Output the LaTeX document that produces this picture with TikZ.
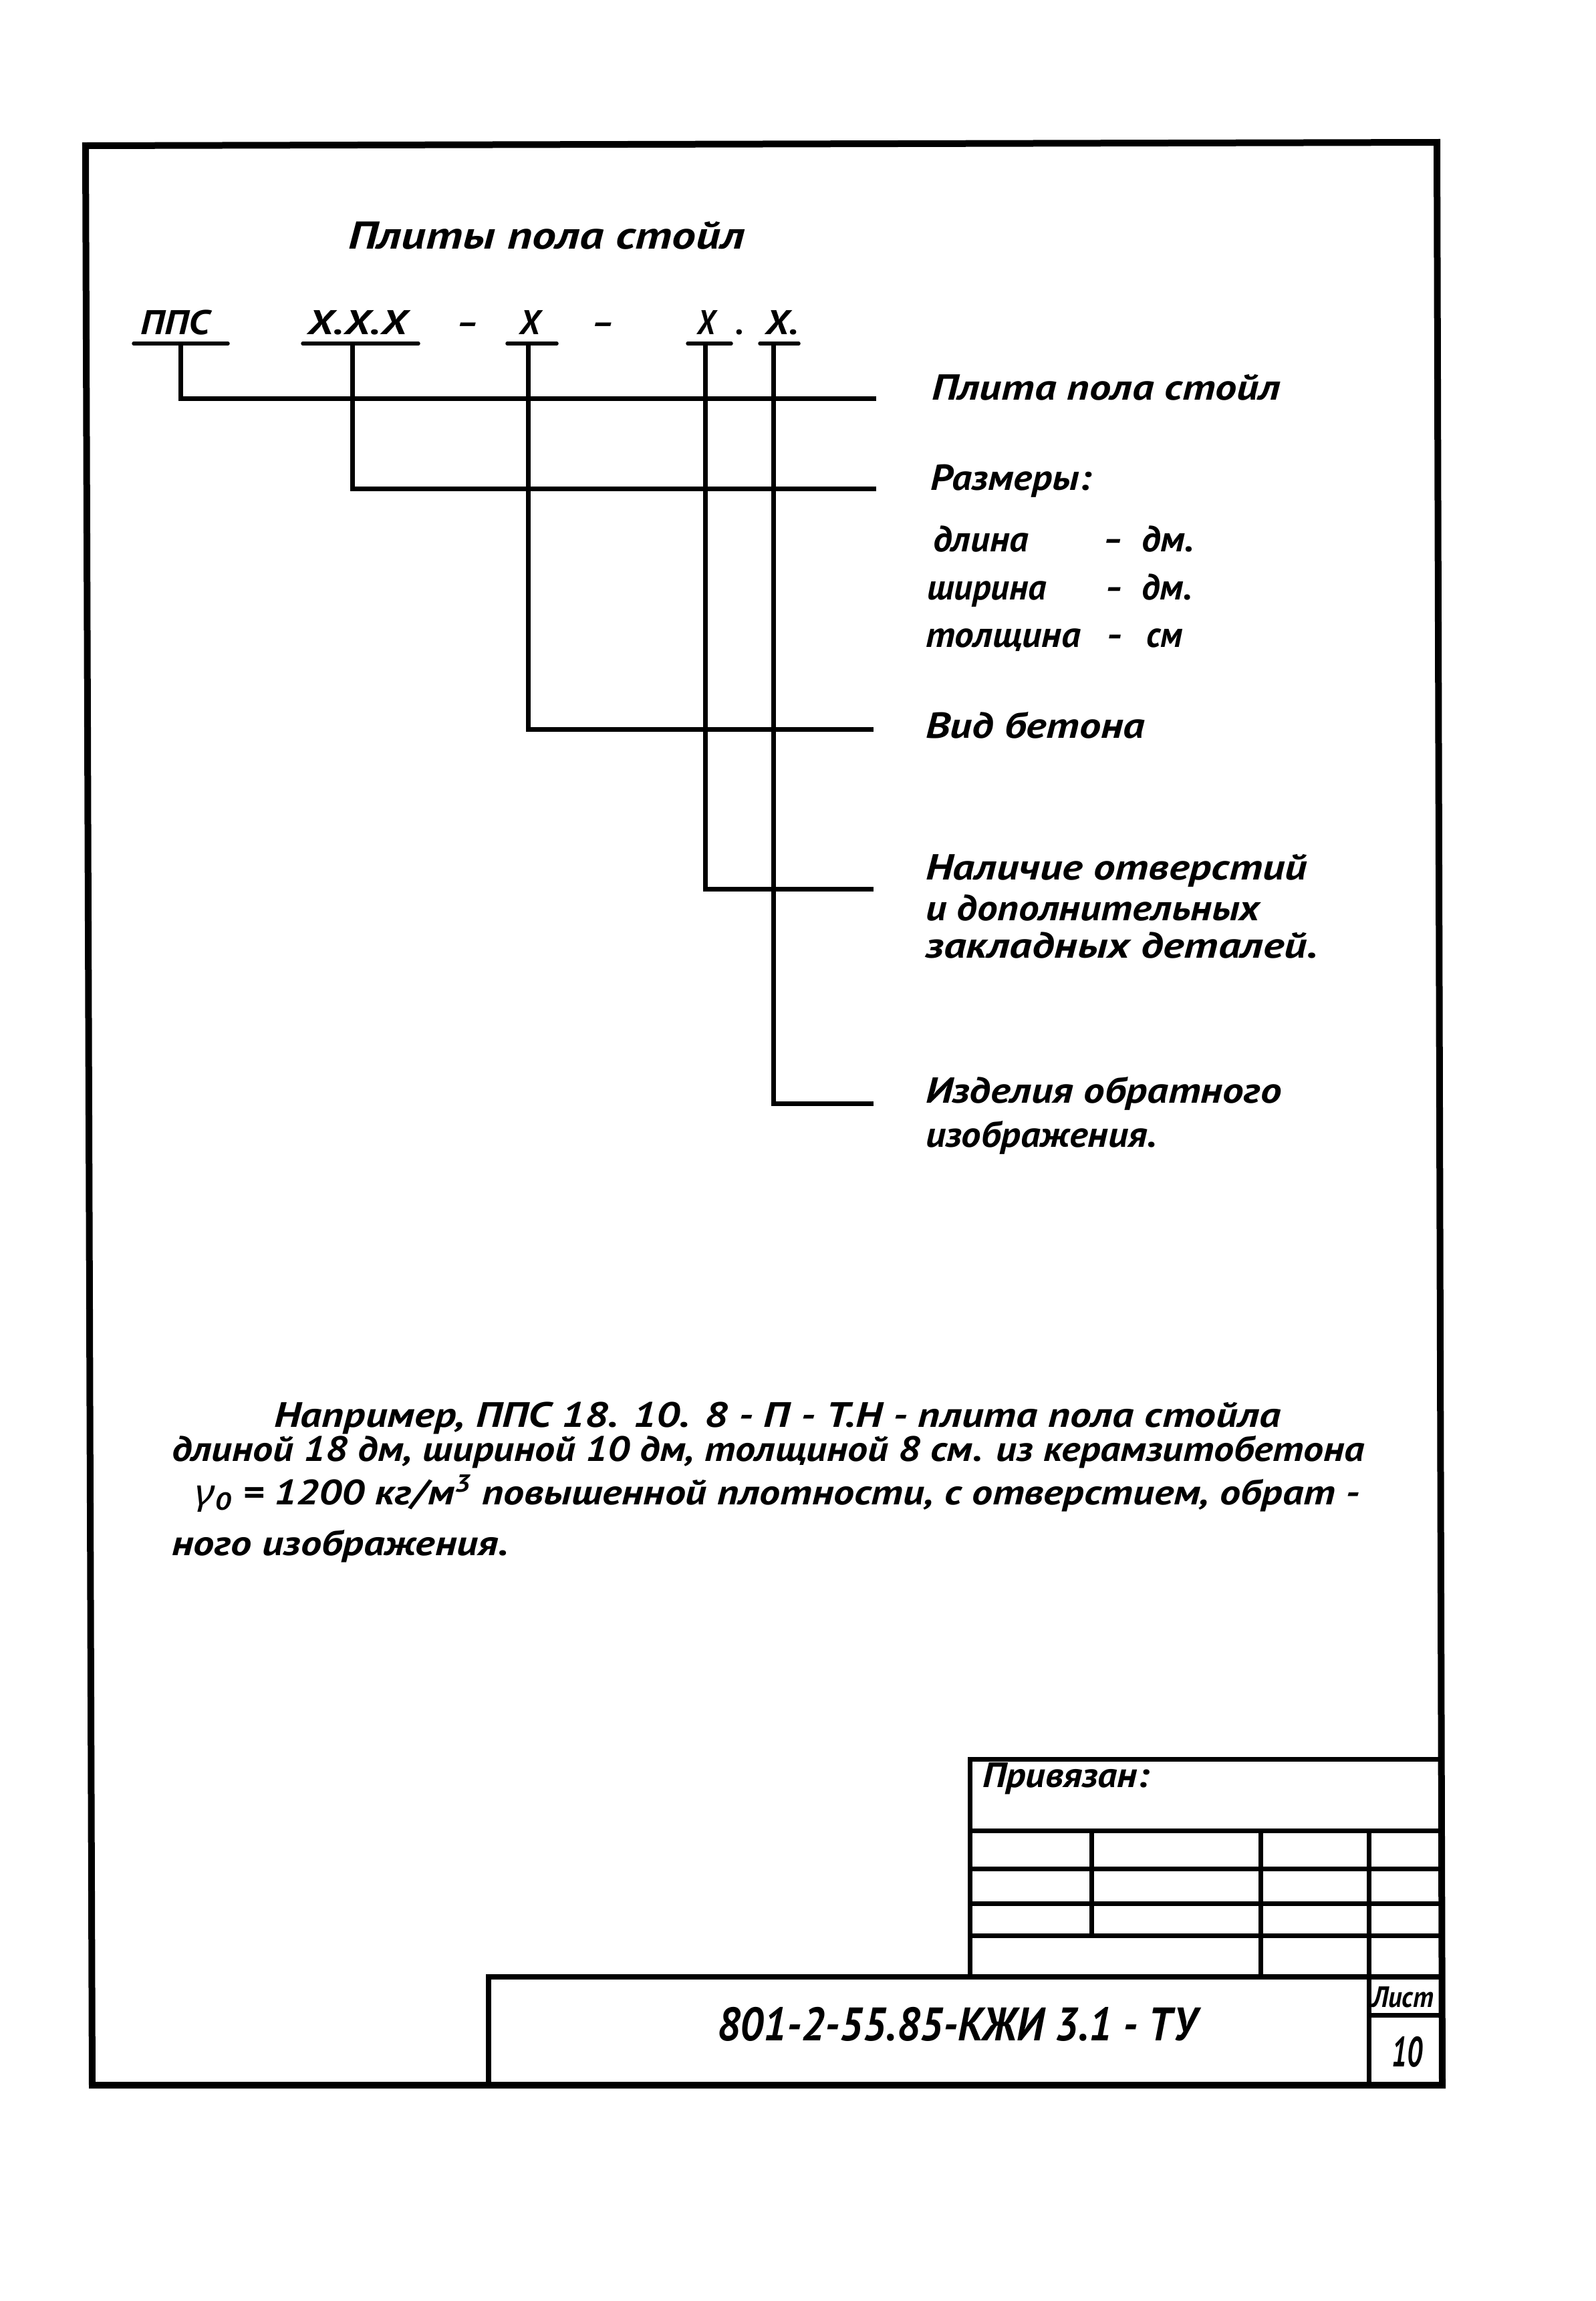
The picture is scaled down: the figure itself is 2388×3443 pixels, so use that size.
\documentclass[tikz,border=0pt]{standalone}
\usepackage{fontspec}
\usepackage{graphicx}
\setmainfont{PT Sans}
\newfontfamily\grkfont{Noto Sans}
% font size (pt), target width (mm), text
\newcommand\ftx[3]{\fontsize{#1pt}{#1pt}\selectfont\resizebox{#2mm}{\height}{#3}}
\newcommand\ftn[2]{\fontsize{#1pt}{#1pt}\selectfont #2}
\begin{document}
\begin{tikzpicture}[x=0.1mm,y=-0.1mm,
  txt/.style={inner sep=0pt, outer sep=0pt, anchor=base west, font=\bfseries\itshape},
  frameline/.style={line width=1mm, line join=miter},
  stampline/.style={line width=0.85mm, line join=miter},
  tbline/.style={line width=0.7mm},
  conn/.style={line width=0.7mm, line join=miter},
  uline/.style={line width=0.55mm, line cap=round}]
\useasboundingbox (0,0) rectangle (2388,3443);
\fill[white] (0,0) rectangle (2388,3443);

% ---------- frame ----------
\draw[frameline] (128,218) -- (2150,213) -- (2158,3120) -- (138,3120) -- cycle;

% ---------- title block ----------
\draw[tbline] (1451,2958) -- (1451,2632) -- (2157,2632);
\foreach \yy in {2739,2796,2848,2896} \draw[tbline] (1451,\yy) -- (2157,\yy);
\draw[tbline] (1633,2739) -- (1633,2896);
\draw[tbline] (1886,2739) -- (1886,2958);
\draw[tbline] (2048,2739) -- (2048,3120);
\draw[stampline] (731,3120) -- (731,2958) -- (2158,2958);
\draw[tbline] (2048,3015) -- (2158,3015);

\node[txt] (priv) at (1470,2674) {\ftx{15}{25.0}{Привязан:}};
\node[txt] (code) at (1073,3053) {\ftx{20}{71.7}{801-2-55.85-КЖИ 3.1 - ТУ}};
\node[txt] (list) at (2053,3003) {\ftx{12.5}{9.2}{Лист}};
\node[txt] (num) at (2082,3092) {\ftx{18}{4.6}{10}};

% ---------- heading ----------
\node[txt] (title) at (521,372) {\ftx{16.5}{59.3}{Плиты пола стойл}};

% ---------- code row ----------
\node[txt] (c1) at (211,500) {\ftx{14.6}{10.3}{ППС}};
\node[txt] (c2) at (460,500) {\ftx{14.6}{14.9}{Х.Х.Х}};
\node[txt] (d1) at (682,500) {\ftx{14.6}{3.4}{–}};
\node[txt] (c3) at (777,500) {\ftx{14.6}{3.1}{Х}};
\node[txt] (d2) at (884,500) {\ftx{14.6}{3.5}{–}};
\node[txt] (c4) at (1043,500) {\ftx{14.6}{2.7}{Х}};
\node[txt] (c5) at (1100,500) {\ftn{14.6}{.}};
\node[txt] (c6) at (1145,500) {\ftx{14.6}{5.0}{Х.}};

% underlines
\draw[uline] (200,514) -- (341,514);
\draw[uline] (453,514) -- (626,514);
\draw[uline] (759,514) -- (833,514);
\draw[uline] (1029,514) -- (1094,514);
\draw[uline] (1137,514) -- (1195,514);

% connectors
\coordinate (u1) at (270,514);
\coordinate (u2) at (527,514);
\coordinate (u3) at (790,514);
\coordinate (u4) at (1055,514);
\coordinate (u5) at (1157,514);
\coordinate (e1) at (1311,596);
\coordinate (e2) at (1311,731);
\coordinate (e3) at (1307,1091);
\coordinate (e4) at (1307,1330);
\coordinate (e5) at (1307,1651);
\draw[conn] (u1) |- (e1);
\draw[conn] (u2) |- (e2);
\draw[conn] (u3) |- (e3);
\draw[conn] (u4) |- (e4);
\draw[conn] (u5) |- (e5);

% ---------- labels ----------
\node[txt] (l1) at (1394,598) {\ftx{15.4}{52.2}{Плита пола стойл}};
\node[txt] (l2) at (1392,733) {\ftx{15.4}{24.1}{Размеры:}};
\node[txt] (l3a) at (1396,825) {\ftx{15.4}{14.3}{длина}};
\node[txt] (l3b) at (1650,825) {\ftx{15.4}{3.0}{–}};
\node[txt] (l3c) at (1708,825) {\ftx{15.4}{7.9}{дм.}};
\node[txt] (l4a) at (1387,897) {\ftx{15.4}{17.9}{ширина}};
\node[txt] (l4b) at (1653,897) {\ftx{15.4}{2.7}{–}};
\node[txt] (l4c) at (1708,897) {\ftx{15.4}{7.6}{дм.}};
\node[txt] (l5a) at (1385,968) {\ftx{15.4}{23.2}{толщина}};
\node[txt] (l5b) at (1655,968) {\ftx{15.4}{2.5}{–}};
\node[txt] (l5c) at (1715,968) {\ftx{15.4}{5.4}{см}};
\node[txt] (l6) at (1385,1104) {\ftx{15.4}{32.8}{Вид бетона}};
\node[txt] (l7a) at (1385,1316) {\ftx{15.4}{57.1}{Наличие отверстий}};
\node[txt] (l7b) at (1385,1377) {\ftx{15.4}{50.0}{и дополнительных}};
\node[txt] (l7c) at (1385,1433) {\ftx{15.4}{58.7}{закладных деталей.}};
\node[txt] (l8a) at (1385,1650) {\ftx{15.4}{53.3}{Изделия обратного}};
\node[txt] (l8b) at (1385,1716) {\ftx{15.4}{34.6}{изображения.}};

% ---------- example paragraph ----------
\node[txt] (p1) at (410,2135) {\ftx{15}{150.6}{Например, ППС 18. 10. 8 - П - Т.Н - плита пола стойла}};
\node[txt] (p2) at (257,2186) {\ftx{15}{178.5}{длиной 18 дм, шириной 10 дм, толщиной 8 см. из керамзитобетона}};
\node[txt] (p3) at (292,2251) {\ftx{15}{174.3}{{\grkfont γ}\textsubscript{0} = 1200 кг/м\textsuperscript{3} повышенной плотности, с отверстием, обрат -}};
\node[txt] (p4) at (257,2327) {\ftx{15}{50.4}{ного изображения.}};
\end{tikzpicture}
\end{document}
